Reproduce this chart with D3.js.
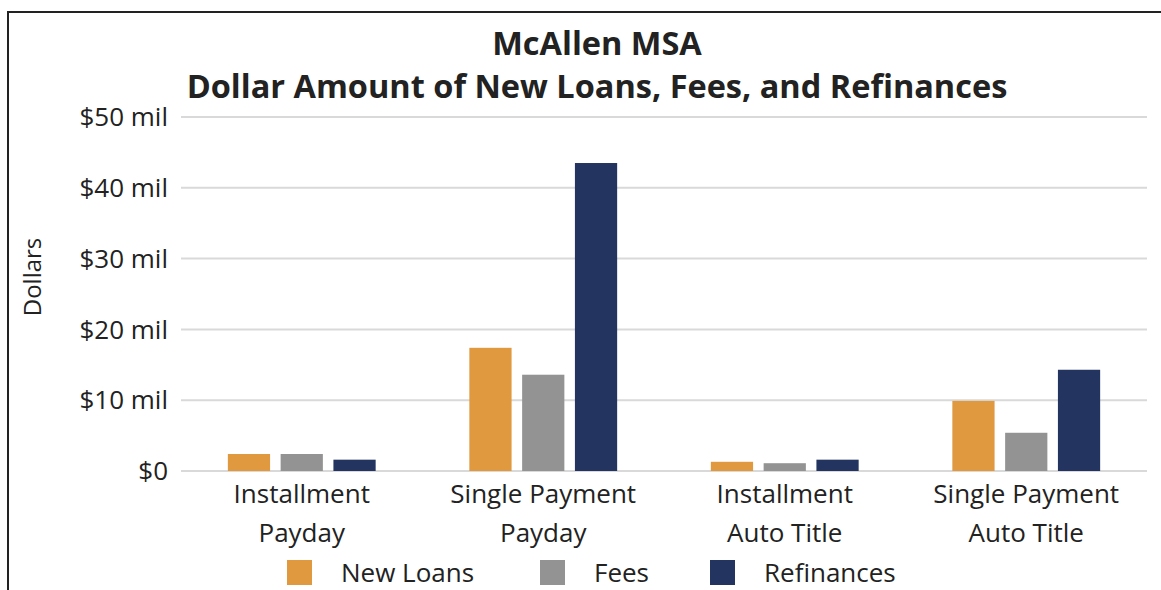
<!DOCTYPE html>
<html><head><meta charset="utf-8">
<script src="https://cdn.jsdelivr.net/npm/d3@7"></script>
<style>body{margin:0;background:#fff}svg{display:block;font-family:"Open Sans",sans-serif}</style>
</head><body><svg id="c" width="1161" height="590"></svg>
<script>
const categories = [["Installment","Payday"],["Single Payment","Payday"],["Installment","Auto Title"],["Single Payment","Auto Title"]];
const series = ["New Loans","Fees","Refinances"];
const newLoans = [2.4, 17.4, 1.3, 9.9];
const fees = [2.4, 13.6, 1.1, 5.4];
const refinances = [1.6, 43.5, 1.6, 14.3];
const yTicks = [0,10,20,30,40,50];
const colors = ["#E0993F","#939393","#22345F"];

const svg = d3.select("#c");
const values = [newLoans, fees, refinances];
const plotLeft = 181, plotRight = 1147, plotTop = 117, plotBottom = 471;

// border
svg.append("path").attr("d","M8,590 V12 H1161").attr("fill","none").attr("stroke","#222").attr("stroke-width",2);

const x0 = d3.scaleBand().domain(d3.range(categories.length)).range([plotLeft,plotRight]).paddingInner(0.388).paddingOuter(0.194);
const x1 = d3.scaleBand().domain(d3.range(series.length)).range([0,x0.bandwidth()]).paddingInner(0.2);
const y = d3.scaleLinear().domain([0,50]).range([plotBottom,plotTop]);

svg.append("g").selectAll("line").data(yTicks).join("line")
  .attr("x1",plotLeft).attr("x2",plotRight).attr("y1",d=>y(d)).attr("y2",d=>y(d))
  .attr("stroke","#d9d9d9").attr("stroke-width",2);

svg.append("g").selectAll("text").data(yTicks).join("text")
  .attr("x",168).attr("y",d=>y(d)).attr("dy","0.35em").attr("text-anchor","end")
  .attr("font-size",26).attr("fill","#222")
  .text(d=> d===0 ? "$0" : "$"+d+" mil");

const g = svg.append("g");
series.forEach((s,si)=>{
  g.selectAll(".b"+si).data(values[si]).join("rect").attr("class","b"+si)
    .attr("x",(d,i)=>x0(i)+x1(si)).attr("width",x1.bandwidth())
    .attr("y",d=>y(d)).attr("height",d=>y(0)-y(d))
    .attr("fill",colors[si]);
});

const xl = svg.append("g");
categories.forEach((c,i)=>{
  const cx = x0(i)+x0.bandwidth()/2;
  c.forEach((line,li)=>{
    xl.append("text").attr("x",cx).attr("y",503+li*39).attr("text-anchor","middle")
      .attr("font-size",26).attr("fill","#222").text(line);
  });
});

svg.append("text").attr("transform","translate(41,277) rotate(-90)").attr("text-anchor","middle")
  .attr("font-size",24).attr("fill","#222").text("Dollars");

svg.append("text").attr("x",597).attr("y",55).attr("text-anchor","middle")
  .attr("font-size",32.5).attr("font-weight","bold").attr("fill","#222").text("McAllen MSA");
svg.append("text").attr("x",597).attr("y",98).attr("text-anchor","middle")
  .attr("font-size",32.5).attr("font-weight","bold").attr("fill","#222").text("Dollar Amount of New Loans, Fees, and Refinances");

const legX = [287,540,710];
const leg = svg.append("g");
series.forEach((s,si)=>{
  leg.append("rect").attr("x",legX[si]).attr("y",560).attr("width",25).attr("height",25).attr("fill",colors[si]);
  leg.append("text").attr("x",legX[si]+54).attr("y",582).attr("font-size",26).attr("fill","#222").text(s);
});
</script></body></html>
